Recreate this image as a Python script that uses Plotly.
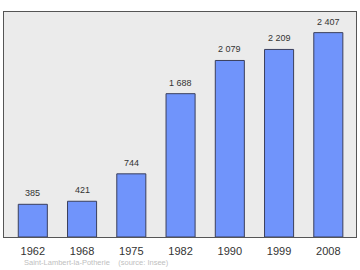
import plotly.graph_objects as go

years = ["1962", "1968", "1975", "1982", "1990", "1999", "2008"]
population = [385, 421, 744, 1688, 2079, 2209, 2407]
labels = ["385", "421", "744", "1 688", "2 079", "2 209", "2 407"]

xs = list(range(len(years)))

fig = go.Figure()
fig.add_trace(go.Bar(
    x=xs, y=population, width=0.59,
    marker=dict(color="#7094fb", line=dict(color="#3a3f5c", width=1)),
    hoverinfo="skip",
))

for x, y, t in zip(xs, population, labels):
    fig.add_annotation(x=x, y=y, text=t, showarrow=False, yanchor="bottom",
                       yshift=4, font=dict(family="Liberation Sans", size=9, color="#333333"))

fig.add_annotation(xref="paper", yref="paper", x=(22-4)/352, y=-(262-237)/225,
                   xanchor="left", yanchor="middle", showarrow=False,
                   text="Saint-Lambert-la-Potherie&nbsp;&nbsp;&nbsp;&nbsp;(source: Insee)",
                   font=dict(family="Liberation Sans", size=7.5, color="#c0c0c0"))

fig.update_layout(
    width=360, height=270,
    margin=dict(l=4, r=4, t=12, b=33),
    paper_bgcolor="white", plot_bgcolor="#ebebeb",
    showlegend=False,
    xaxis=dict(range=[-0.585, 6.562], tickvals=xs, ticktext=years,
               showgrid=False, zeroline=False, showline=True, mirror=True,
               linecolor="#555555", linewidth=1, ticks="outside", ticklen=4,
               tickcolor="rgba(0,0,0,0)", fixedrange=True,
               tickfont=dict(family="Liberation Sans", size=11, color="#333333")),
    yaxis=dict(range=[0, 2650], showgrid=False, zeroline=False, showline=True,
               mirror=True, linecolor="#555555", linewidth=1, showticklabels=False,
               ticks="", fixedrange=True),
)

fig.write_html("out.html")
